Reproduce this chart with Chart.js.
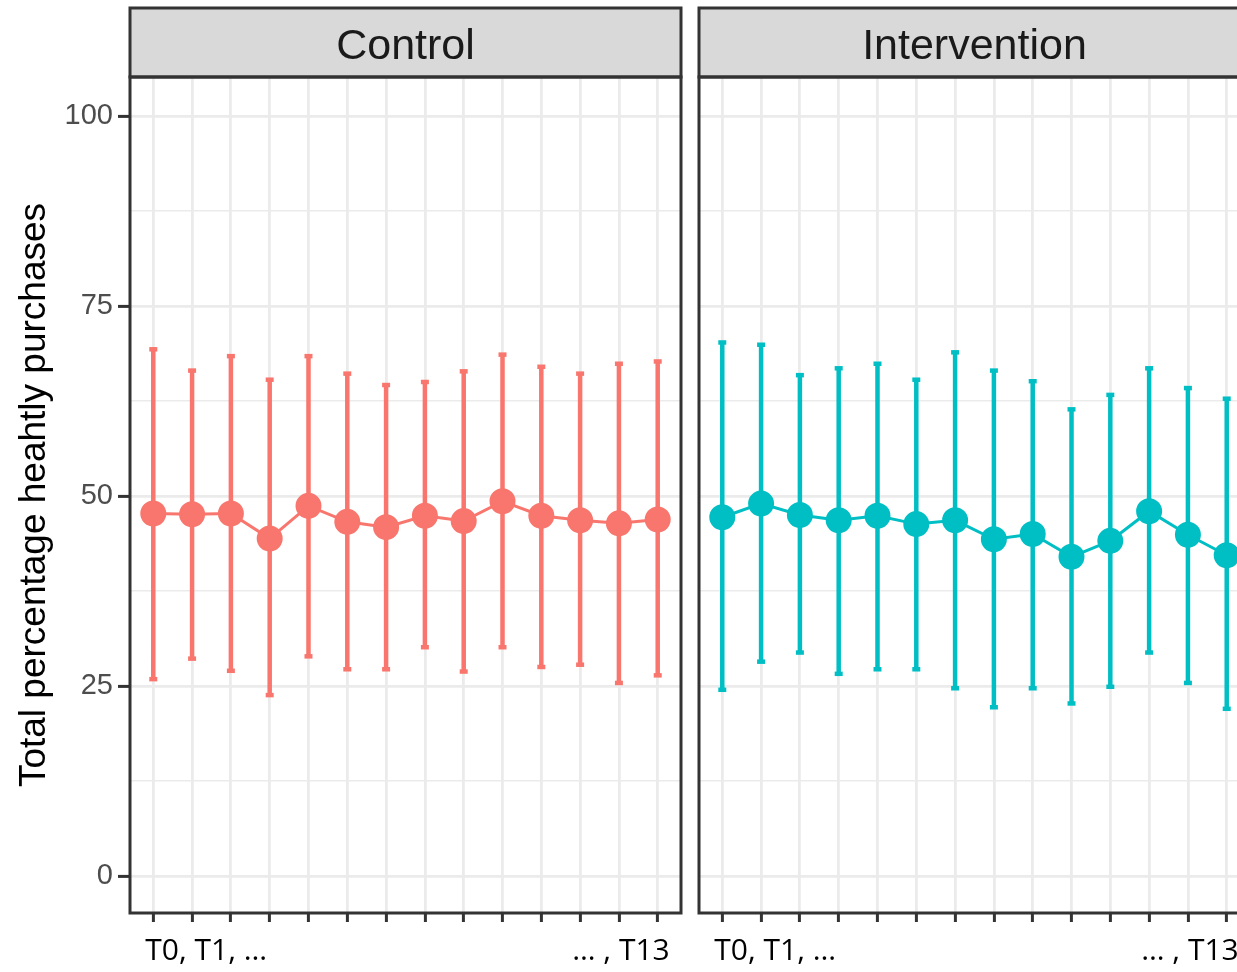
<!DOCTYPE html>
<html>
<head>
<meta charset="utf-8">
<script src="https://cdn.jsdelivr.net/npm/chart.js@4"></script>
<style>
  html, body { margin: 0; padding: 0; background: #fff; }
  #wrap { position: relative; width: 1237px; height: 972px; overflow: hidden; }
  canvas { position: absolute; top: 0; }
</style>
</head>
<body>
<div id="wrap">
  <canvas id="control" width="690" height="972" style="left:0"></canvas>
  <canvas id="intervention" width="580" height="972" style="left:690px"></canvas>
</div>
<script>
const timepoints = ["T0", "T1", "T2", "T3", "T4", "T5", "T6", "T7", "T8", "T9", "T10", "T11", "T12", "T13"];
const tickLabels = ["T0, T1, \u2026", "\u2026 , T13"];
const yTicks = [0, 25, 50, 75, 100];
const yTitle = "Total percentage heahtly purchases";

const controlMean = [47.7, 47.6, 47.7, 44.4, 48.7, 46.6, 45.9, 47.4, 46.7, 49.3, 47.4, 46.8, 46.4, 46.9];
const controlLow = [25.9, 28.6, 27.0, 23.8, 28.9, 27.2, 27.2, 30.1, 26.9, 30.1, 27.5, 27.8, 25.4, 26.4];
const controlHigh = [69.3, 66.5, 68.4, 65.3, 68.4, 66.1, 64.6, 65.0, 66.4, 68.6, 67.0, 66.1, 67.4, 67.7];

const interventionMean = [47.2, 49.0, 47.5, 46.8, 47.4, 46.3, 46.8, 44.3, 45.0, 42.0, 44.1, 48.0, 44.9, 42.2];
const interventionLow = [24.5, 28.2, 29.4, 26.6, 27.2, 27.2, 24.7, 22.2, 24.7, 22.7, 24.9, 29.4, 25.4, 22.0];
const interventionHigh = [70.2, 69.9, 65.9, 66.8, 67.4, 65.3, 68.9, 66.5, 65.1, 61.4, 63.3, 66.8, 64.2, 62.8];

// major ticks plus the minor lines half way between them
const yGrid = [];
yTicks.forEach((v, i) => {
  yGrid.push(v);
  if (i < yTicks.length - 1) yGrid.push((v + yTicks[i + 1]) / 2);
});

const isMajor = (v) => yTicks.includes(v);

// strip on top, panel frame and the two x labels
const facetDecor = {
  id: "facetDecor",
  afterDraw(chart, args, opts) {
    const { ctx, chartArea: a, scales } = chart;
    ctx.save();
    ctx.fillStyle = "#d9d9d9";
    ctx.fillRect(a.left, 8, a.right - a.left, a.top - 8);
    ctx.strokeStyle = "#333333";
    ctx.lineWidth = 3;
    ctx.strokeRect(a.left, 8, a.right - a.left, a.top - 8);
    ctx.strokeRect(a.left, a.top, a.right - a.left, a.bottom - a.top);

    ctx.fillStyle = "#1a1a1a";
    ctx.font = '43px "Liberation Sans", Arial, sans-serif';
    ctx.textAlign = "center";
    ctx.textBaseline = "alphabetic";
    ctx.fillText(opts.title, (a.left + a.right) / 2, 59);

    const x = scales.x;
    ctx.fillStyle = "#000";
    ctx.font = '30px "Open Sans", sans-serif';
    ctx.textAlign = "left";
    ctx.fillText(tickLabels[0], x.getPixelForValue(0) - 8, 960);
    ctx.textAlign = "right";
    ctx.fillText(tickLabels[1], x.getPixelForValue(timepoints.length - 1) + 12, 960);

    if (opts.yTitle) {
      ctx.translate(45, 495);
      ctx.rotate(-Math.PI / 2);
      ctx.fillStyle = "#000";
      ctx.font = '37px "Liberation Sans", Arial, sans-serif';
      ctx.textAlign = "center";
      ctx.fillText(opts.yTitle, 0, 0);
    }
    ctx.restore();
  },
};

function makePanel(id, title, color, mean, low, high, first) {
  const points = mean.map((v, i) => ({ x: i, y: v }));
  const bars = [];
  low.forEach((lo, i) => {
    bars.push({ x: i, y: lo }, { x: i, y: high[i] }, { x: i, y: null });
  });

  new Chart(document.getElementById(id), {
    type: "line",
    data: {
      datasets: [
        {
          data: points,
          borderColor: color,
          backgroundColor: color,
          borderWidth: 3,
          pointRadius: 12,
          pointBorderWidth: 2,
          tension: 0,
          order: 0,
        },
        {
          data: bars,
          borderColor: color,
          backgroundColor: color,
          borderWidth: 4.5,
          pointStyle: "line",
          pointRadius: 4,
          pointBorderWidth: 4.5,
          spanGaps: false,
          order: 1,
        },
      ],
    },
    options: {
      responsive: false,
      animation: false,
      events: [],
      layout: { autoPadding: false, padding: { top: 77, right: first ? 9 : 20, left: 0, bottom: 0 } },
      plugins: {
        legend: { display: false },
        tooltip: { enabled: false },
        facetDecor: { title: title, yTitle: first ? yTitle : null },
      },
      scales: {
        x: {
          type: "linear",
          min: -0.6,
          max: timepoints.length - 1 + 0.6,
          afterBuildTicks: (s) => {
            s.ticks = timepoints.map((t, i) => ({ value: i }));
          },
          afterFit: (s) => {
            s.height = 59;
          },
          ticks: { callback: () => "", autoSkip: false },
          grid: { color: "#ebebeb", lineWidth: 2.8, tickColor: "#333333", tickWidth: 3, tickLength: 9 },
          border: { display: false },
        },
        y: {
          min: -4.87,
          max: 105.13,
          afterBuildTicks: (s) => {
            s.ticks = yGrid.map((v) => ({ value: v }));
          },
          afterFit: (s) => {
            s.width = first ? 130 : 9;
          },
          ticks: {
            display: first,
            autoSkip: false,
            padding: 5,
            color: "#4d4d4d",
            font: { family: '"Liberation Sans", Arial, sans-serif', size: 29 },
            callback: (v) => (isMajor(v) ? String(v) : ""),
          },
          grid: {
            color: "#ebebeb",
            lineWidth: (c) => (c.tick && isMajor(c.tick.value) ? 2.8 : 1.4),
            drawTicks: first,
            tickLength: 12,
            tickWidth: 3,
            tickColor: (c) => (c.tick && isMajor(c.tick.value) ? "#333333" : "rgba(0,0,0,0)"),
          },
          border: { display: false },
        },
      },
    },
    plugins: [facetDecor],
  });
}

makePanel("control", "Control", "#F8766D", controlMean, controlLow, controlHigh, true);
makePanel("intervention", "Intervention", "#00BFC4", interventionMean, interventionLow, interventionHigh, false);
</script>
</body>
</html>
